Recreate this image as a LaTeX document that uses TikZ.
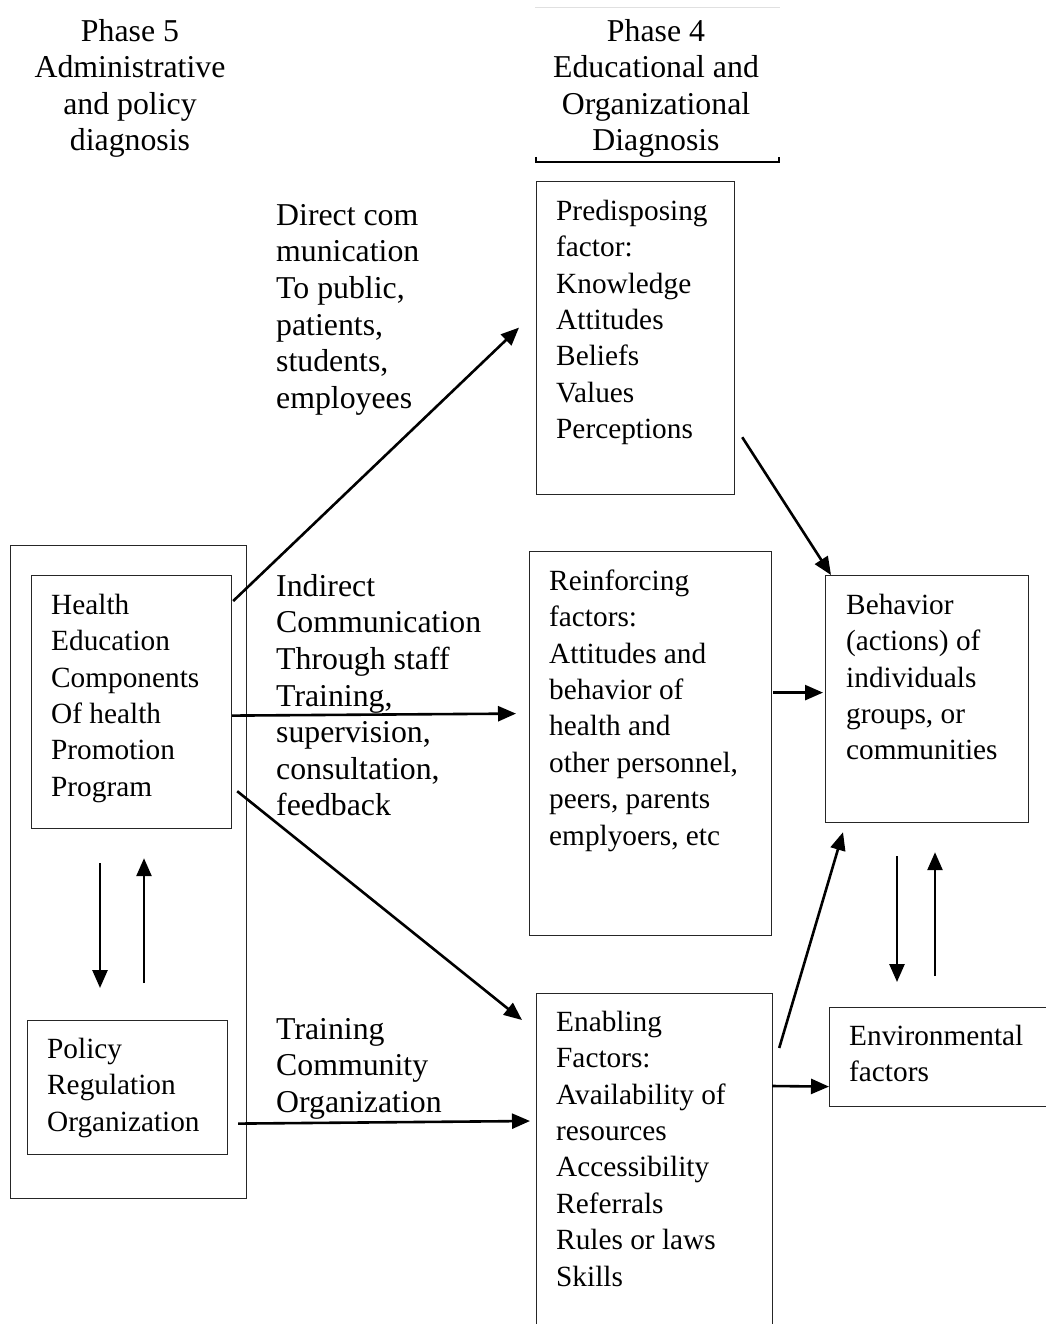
\documentclass[tikz,border=0pt]{standalone}
\usepackage{fontspec}
\setmainfont{Liberation Serif}
\usetikzlibrary{arrows.meta}
\tikzset{
  box/.style={draw=black!85, line width=1.2pt, anchor=north west, inner sep=0pt, minimum width=#1},
  txt/.style={anchor=north west, align=left, inner sep=0pt, font=\fontsize{29.3}{36.4}\selectfont},
  lab/.style={anchor=north west, align=left, inner sep=0pt, font=\fontsize{31.8}{36.6}\selectfont},
  hdr/.style={anchor=north, align=center, inner sep=0pt, font=\fontsize{31.8}{36.6}\selectfont},
  arr/.style={line width=2.6pt, -{Triangle[length=18pt,width=15pt]}}
}
\newcommand{\fs}{\rule{0pt}{24pt}}
\begin{document}
\begin{tikzpicture}[x=1pt,y=-1pt]
\useasboundingbox (0,0) rectangle (1045,1324);
% headers
\node[hdr] (h5) at (130,17) {\fs Phase 5\\Administrative\\and policy\\diagnosis};
\node[hdr] (h4) at (656,17) {\fs Phase 4\\Educational and\\Organizational\\Diagnosis};
\draw[black!12, line width=0.8pt] (535,7) -- (780,7);
\draw[line width=1.1pt] (536,157) -- (536,162) -- (779,162) -- (779,157);
% boxes
\node[box=236pt, minimum height=653pt] (outer) at (10,545) {};
\node[box=200pt, minimum height=253pt] (he) at (31,575) {};
\node[box=200pt, minimum height=134pt] (pol) at (27,1020) {};
\node[box=198pt, minimum height=313pt] (pre) at (536,181) {};
\node[box=242pt, minimum height=384pt] (rei) at (529,551) {};
\node[box=203pt, minimum height=247pt] (beh) at (825,575) {};
\node[box=236pt, minimum height=350pt] (ena) at (536,993) {};
\node[box=230pt, minimum height=99pt] (env) at (829,1007) {};
% box texts
\node[txt] (heT) at (51,590) {\fs Health\\Education\\Components\\Of health\\Promotion\\Program};
\node[txt] (polT) at (47,1034) {\fs Policy\\Regulation\\Organization};
\node[txt] (preT) at (556,196) {\fs Predisposing\\factor:\\Knowledge\\Attitudes\\Beliefs\\Values\\Perceptions};
\node[txt] (reiT) at (549,566) {\fs Reinforcing\\factors:\\Attitudes and\\behavior of\\health and\\other personnel,\\peers, parents\\emplyoers, etc};
\node[txt] (behT) at (846,590) {\fs Behavior\\(actions) of\\individuals\\groups, or\\communities};
\node[txt] (enaT) at (556,1007) {\fs Enabling\\Factors:\\Availability of\\resources\\Accessibility\\Referrals\\Rules or laws\\Skills};
\node[txt] (envT) at (849,1021) {\fs Environmental\\factors};
% connector labels
\node[lab] (lab1) at (276,201) {\fs Direct com\\munication\\To public,\\patients,\\students,\\employees};
\node[lab] (lab2) at (276,572) {\fs Indirect\\Communication\\Through staff\\Training,\\supervision,\\consultation,\\feedback};
\node[lab] (lab3) at (276,1015) {\fs Training\\Community\\Organization};
% arrows
\draw[arr] ([shift={(1,26)}]he.north east) -- ([shift={(-17,-10.5)}]pre.west);
\draw[arr] ([shift={(0,13.5)}]he.east) -- ([shift={(-13,-30)}]rei.west);
\draw[arr] ([shift={(5,-38)}]he.south east) -- ([shift={(-14,27)}]ena.north west);
\draw[arr] ([shift={(10,36)}]pol.east) -- ([shift={(-6,128)}]ena.north west);
\draw[arr] ([shift={(7,-58)}]pre.south east) -- ([shift={(6,0)}]beh.north west);
\draw[arr] ([shift={(1,-51)}]rei.east) -- ([shift={(-2,-6.5)}]beh.west);
\draw[arr] ([shift={(6,55)}]ena.north east) -- ([shift={(18,9)}]beh.south west);
\draw[arr] ([shift={(-1,93)}]ena.north east) -- ([shift={(0,29.5)}]env.west);
\draw[arr] ([shift={(72,33)}]beh.south west) -- ([shift={(68,-25)}]env.north west);
\draw[arr] ([shift={(106,-31)}]env.north west) -- ([shift={(110,29)}]beh.south west);
\draw[arr] ([shift={(69,34)}]he.south west) -- ([shift={(73,-32)}]pol.north west);
\draw[arr] ([shift={(117,-37)}]pol.north west) -- ([shift={(113,29)}]he.south west);
\end{tikzpicture}
\end{document}
